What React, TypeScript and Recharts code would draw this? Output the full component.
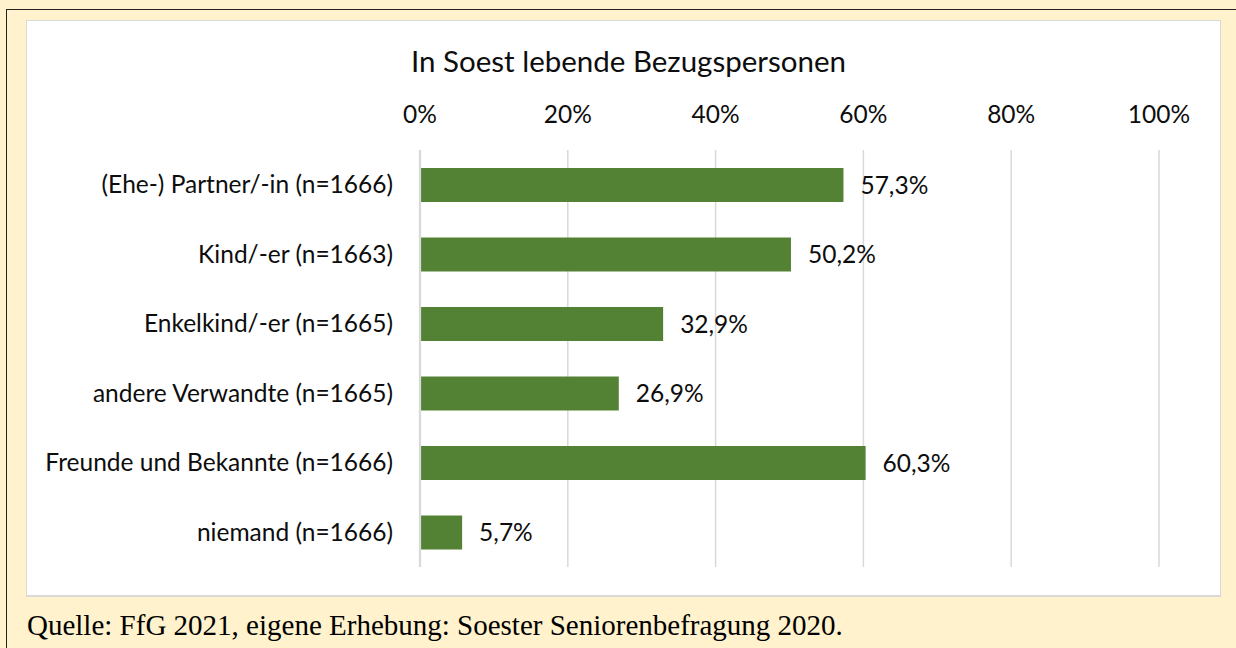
import React from "react";
import { Bar, BarChart, CartesianGrid, LabelList, XAxis, YAxis } from "recharts";

// Soester Seniorenbefragung 2020 — in Soest lebende Bezugspersonen
const categories = [
  "(Ehe-) Partner/-in (n=1666)",
  "Kind/-er (n=1663)",
  "Enkelkind/-er (n=1665)",
  "andere Verwandte (n=1665)",
  "Freunde und Bekannte (n=1666)",
  "niemand (n=1666)",
];
const shares = [57.3, 50.2, 32.9, 26.9, 60.3, 5.7];
const xTicks = [0, 20, 40, 60, 80, 100];

const TITLE = "In Soest lebende Bezugspersonen";
const SOURCE = "Quelle: FfG 2021, eigene Erhebung: Soester Seniorenbefragung 2020.";

const W = 1236;
const H = 648;
const SANS = "Lato, 'Noto Sans', sans-serif";
const SERIF = "'Liberation Serif', 'Times New Roman', serif";
const TEXT = "#0d0d0d";
const GRID = "#d9d9d9";
const BAR = "#548235";
const CREAM = "#fff2cc";
const FONT = 24.5;

const data = categories.map((name, i) => ({ name, value: shares[i] }));

const pct = (v: number) => `${v}%`;
const pctDe = (v: unknown) => `${Number(v).toFixed(1).replace(".", ",")}%`;

export default function App() {
  return (
    <div style={{ position: "absolute", left: 0, top: 0, width: W, height: H, background: CREAM, overflow: "hidden" }}>
      {/* outer frame (left + top edges visible) */}
      <div style={{ position: "absolute", left: 6, top: 9, width: W, height: H, borderLeft: "1.5px solid #222", borderTop: "1.5px solid #222" }} />
      {/* white chart area */}
      <div style={{ position: "absolute", left: 26, top: 20, width: 1195, height: 577, background: "#fff", border: `1px solid ${GRID}`, boxSizing: "border-box", borderBottomWidth: 2 }} />
      <div style={{ position: "absolute", left: 26, top: 40.5, width: 1205, textAlign: "center", fontFamily: SANS, fontSize: 29.5, color: TEXT, lineHeight: "40px" }}>
        {TITLE}
      </div>
      <BarChart
        width={W}
        height={H}
        data={data}
        layout="vertical"
        margin={{ top: 100, right: 77, bottom: 81, left: 0 }}
        barSize={34}
        style={{ position: "absolute", left: 0, top: 0 }}
      >
        <CartesianGrid horizontal={false} stroke={GRID} strokeWidth={1.5} />
        <XAxis
          type="number"
          orientation="top"
          domain={[0, 100]}
          ticks={xTicks}
          tickFormatter={pct}
          height={50}
          axisLine={false}
          tickLine={false}
          tickSize={0}
          tickMargin={27}
          tick={{ fill: TEXT, fontSize: FONT, fontFamily: SANS }}
        />
        <YAxis
          type="category"
          dataKey="name"
          width={420}
          axisLine={{ stroke: GRID, strokeWidth: 2.25 }}
          tickLine={false}
          tickSize={0}
          tickMargin={27}
          tick={{ fill: TEXT, fontSize: FONT, fontFamily: SANS }}
        />
        <Bar dataKey="value" fill={BAR} isAnimationActive={false}>
          <LabelList
            dataKey="value"
            position="right"
            offset={17}
            formatter={pctDe}
            style={{ fill: TEXT, fontSize: FONT, fontFamily: SANS }}
          />
        </Bar>
      </BarChart>
      <div style={{ position: "absolute", left: 27, top: 605, fontFamily: SERIF, fontSize: 29, color: "#000", lineHeight: "40px", whiteSpace: "nowrap" }}>
        {SOURCE}
      </div>
    </div>
  );
}
